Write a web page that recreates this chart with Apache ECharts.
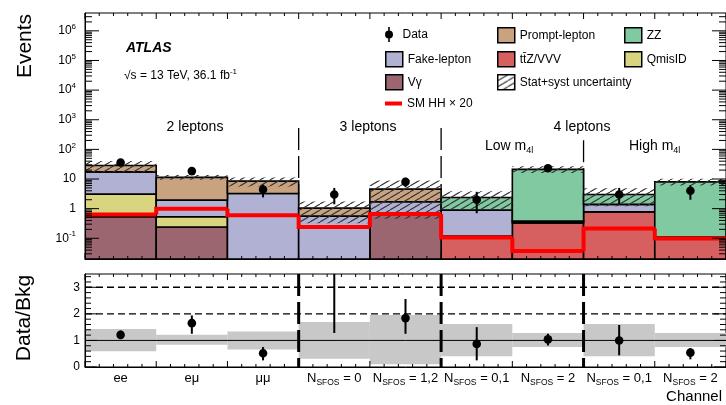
<!DOCTYPE html>
<html><head><meta charset="utf-8">
<script src="https://cdn.jsdelivr.net/npm/echarts@6/dist/echarts.min.js"></script>
<style>html,body{margin:0;padding:0;background:#fff}#c{width:726px;height:405px}</style>
</head><body><div id="c"></div>
<script>
// ---------- data ----------
const categories = ['ee', 'eμ', 'μμ', '3l NSFOS=0', '3l NSFOS=1,2', '4l low NSFOS=0,1', '4l low NSFOS=2', '4l high NSFOS=0,1', '4l high NSFOS=2'];
const channelLabels = ['ee', 'eμ', 'μμ', 'N_SFOS = 0', 'N_SFOS = 1,2', 'N_SFOS = 0,1', 'N_SFOS = 2', 'N_SFOS = 0,1', 'N_SFOS = 2'];
// background components (stack order bottom -> top)
const ttzVVV  = [0,    0,    0,    0,    0,    0.12, 0.33, 0.78, 0.11];
const vGamma  = [0.53, 0.24, 0,    0,    0.6,  0,    0,    0,    0];
const qmisID  = [2.55, 0.29, 0,    0,    0,    0,    0,    0,    0];
const fakeLep = [14.4, 1.41, 3.26, 0.56, 1.1,  0.77, 0.05, 0.61, 0];
const promptLep = [11, 9.4,  5.2,  0.48, 2.86, 0,    0,    0,    0];
const zzBkg   = [0,    0,    0,    0,    0,    1.5,  20.8, 1.6,  7.9];
const smHH20  = [0.64, 1.0,  0.6,  0.24, 0.66, 0.106, 0.037, 0.214, 0.098];
const dataVals = [36,  18.5, 4.4,  3,    8,    2,    23,   3,    4];
const dataLo   = [30,  14,   2.4,  1.4,  5.3,  0.7,  18.5, 1.4,  2.0];
const dataHi   = [42,  23,   6.5,  5.0,  11,   3.7,  28,   5.0,  6.2];
// relative uncertainty band (ratio units)
const bandLo = [0.59, 0.84, 0.66, 0.31, 0.10, 0.40, 0.75, 0.40, 0.75];
const bandHi = [1.43, 1.21, 1.34, 1.69, 1.96, 1.62, 1.28, 1.62, 1.28];
// data / bkg
const ratio   = [1.21, 1.65, 0.52, 3.6,  1.84, 0.87, 1.04, 1.00, 0.54];
const ratioLo = [1.05, 1.25, 0.25, 1.28, 1.25, 0.25, 0.81, 0.44, 0.29];
const ratioHi = [1.37, 1.94, 0.75, 5.0,  2.56, 1.50, 1.25, 1.58, 0.71];
const logTicks = [0.1, 1, 10, 100, 1e3, 1e4, 1e5, 1e6];
const ratioTicks = [0, 1, 2, 3];

// ---------- helpers ----------
const FONT = "'Liberation Sans', Arial, Helvetica, sans-serif";
const Y_MIN = 0.02, Y_MAX = 4e6, R_MAX = 3.5;
const NB = categories.length;
const layers = [
  {name: 'tt\u0304Z/VVV', vals: ttzVVV, color: '#d65f5f'},
  {name: 'V\u03b3', vals: vGamma, color: '#9c6670'},
  {name: 'QmisID', vals: qmisID, color: '#d9d47f'},
  {name: 'Fake-lepton', vals: fakeLep, color: '#b1b1d3'},
  {name: 'Prompt-lepton', vals: promptLep, color: '#c9a27f'},
  {name: 'ZZ', vals: zzBkg, color: '#80c9a1'}
];
const cum = categories.map(() => 0);
layers.forEach(l => {
  l.bottom = cum.slice();
  l.vals.forEach((v, i) => { cum[i] += v; });
  l.top = cum.slice();
});
const totalBkg = cum.slice();

// tick lists for the frame (value, length)
const topYTicks = logTicks.map(v => [v, 14]);
for (let k = -2; k <= 6; k++) for (let m = 2; m <= 9; m++) {
  const v = m * Math.pow(10, k);
  if (v > Y_MIN && v < Y_MAX) topYTicks.push([v, 7]);
}
const botYTicks = ratioTicks.map(v => [v, 12]);
for (let k = 1; k < 18; k++) if (k % 5) botYTicks.push([k / 5, 6]);

function makeHatch() {
  const c = document.createElement('canvas');
  c.width = 10; c.height = 6;
  const g = c.getContext('2d');
  g.strokeStyle = '#333'; g.lineWidth = 1.1;
  g.beginPath();
  for (const dx of [-10, 0, 10]) { g.moveTo(dx, 6); g.lineTo(dx + 10, 0); }
  g.stroke();
  return {image: c, repeat: 'repeat'};
}
const hatch = makeHatch();

function binGeom(api, i, v) {
  const c = api.coord([i, v]);
  const c2 = api.coord([i + 1, v]);
  const w = c2[0] - c[0];
  return {x0: c[0] - w / 2, x1: c[0] + w / 2, y: c[1], cx: c[0], w};
}

function frameTicks(xi, yi, yTicks, yLo, yHi) {
  return {
    type: 'custom', name: 'frame' + yi, xAxisIndex: xi, yAxisIndex: yi, z: 20, silent: true, clip: false,
    data: [[0, yLo]], encode: {x: 0, y: 1},
    renderItem(p, api) {
      const g = binGeom(api, 0, yLo);
      const left = g.x0, right = g.x0 + g.w * NB;
      const yb = api.coord([0, yLo])[1], yt = api.coord([0, yHi])[1];
      const ch = [];
      const st = {stroke: '#000', lineWidth: 1};
      yTicks.forEach(t => {
        const y = api.coord([0, t[0]])[1];
        ch.push({type: 'line', shape: {x1: left, y1: y, x2: left + t[1], y2: y}, style: st});
        ch.push({type: 'line', shape: {x1: right - t[1], y1: y, x2: right, y2: y}, style: st});
      });
      for (let k = 0; k <= NB * 5; k++) {
        const x = left + g.w * k / 5, len = k % 5 === 0 ? 6 : 3;
        ch.push({type: 'line', shape: {x1: x, y1: yb, x2: x, y2: yb - len}, style: st});
        ch.push({type: 'line', shape: {x1: x, y1: yt, x2: x, y2: yt + len}, style: st});
      }
      return {type: 'group', children: ch};
    }
  };
}

const layerSeries = layers.map(l => ({
  type: 'custom', name: l.name, xAxisIndex: 0, yAxisIndex: 0, z: 3, clip: true,
  itemStyle: {color: l.color},
  data: categories.map((c, i) => [i, l.bottom[i], l.top[i]]),
  encode: {x: 0, y: 2},
  renderItem(p, api) {
    const i = api.value(0), b = api.value(1), t = api.value(2);
    if (!(t > b)) return null;
    const g = binGeom(api, i, t);
    const yb = api.coord([i, Math.max(b, Y_MIN)])[1];
    return {type: 'rect', shape: {x: g.x0, y: g.y, width: g.w, height: yb - g.y},
      style: {fill: l.color, stroke: '#000', lineWidth: 1.6}};
  }
}));

function richLabel(s) {
  if (s.startsWith('N_SFOS')) return '{n|N}{s|SFOS}{n|' + s.slice(6) + '}';
  return '{n|' + s + '}';
}

const xBase = {
  type: 'category', data: categories, boundaryGap: true, z: 10,
  axisLine: {show: true, lineStyle: {color: '#000', width: 1}},
  axisTick: {show: false}, axisLabel: {show: false}, splitLine: {show: false}
};
const powLabelRich = {
  b: {fontSize: 12, fontFamily: FONT, color: '#000', lineHeight: 16},
  s: {fontSize: 8, fontFamily: FONT, color: '#000', lineHeight: 8, verticalAlign: 'top'}
};

const chart = echarts.init(document.getElementById('c'));
const option = {
  animation: false,
  backgroundColor: '#fff',
  grid: [
    {left: 85, top: 13, width: 641, height: 246, show: true, borderColor: '#000', borderWidth: 1},
    {left: 85, top: 274, width: 641, height: 93, show: true, borderColor: '#000', borderWidth: 1}
  ],
  xAxis: [
    Object.assign({}, xBase, {gridIndex: 0, position: 'bottom'}),
    Object.assign({}, xBase, {gridIndex: 1, position: 'bottom',
      axisLabel: {show: true, interval: 0, margin: 2,
        formatter: (v, i) => richLabel(channelLabels[i]),
        rich: {
          n: {fontSize: 13, fontFamily: FONT, color: '#000', lineHeight: 18},
          s: {fontSize: 8.5, fontFamily: FONT, color: '#000', lineHeight: 8, verticalAlign: 'bottom'}
        }}})
  ],
  yAxis: [
    {type: 'log', logBase: 10, min: Y_MIN, max: Y_MAX, gridIndex: 0, z: 10, position: 'left',
      splitLine: {show: false}, minorTick: {show: false},
      axisLine: {show: true, lineStyle: {color: '#000'}},
      axisTick: {show: false},
      axisLabel: {show: true, margin: 9, customValues: logTicks,
        formatter: v => {
          const e = Math.round(Math.log10(v));
          if (e === 0) return '{b|1}';
          if (e === 1) return '{b|10}';
          return '{b|10}{s|' + e + '}';
        }, rich: powLabelRich}},
    {type: 'value', gridIndex: 1, position: 'left', min: 0, max: R_MAX, interval: 1, z: 10,
      axisLine: {show: true, lineStyle: {color: '#000'}},
      axisTick: {show: false}, minorTick: {show: false},
      axisLabel: {show: true, margin: 5, customValues: ratioTicks, fontSize: 12, fontFamily: FONT, color: '#000'},
      splitLine: {show: false}}
  ],
  legend: [],
  graphic: [],
  series: []
};

// separators in top panel (drawn under stacks)
option.series.push({
  type: 'custom', name: 'sepTop', xAxisIndex: 0, yAxisIndex: 0, z: 1, silent: true,
  data: [[3, 525], [5, 525], [7, 205]], encode: {x: 0, y: 1},
  renderItem(p, api) {
    const i = api.value(0);
    const g = binGeom(api, i, api.value(1));
    const yb = api.coord([i, Y_MIN])[1];
    return {type: 'line', shape: {x1: g.x0, y1: g.y, x2: g.x0, y2: yb},
      style: {stroke: '#000', lineWidth: 1.3, lineDash: [22, 6]}};
  }
});
layerSeries.forEach(s => option.series.push(s));
// uncertainty hatch
option.series.push({
  type: 'custom', name: 'Stat+syst uncertainty', xAxisIndex: 0, yAxisIndex: 0, z: 4, clip: true,
  itemStyle: {color: hatch},
  data: categories.map((c, i) => [i, totalBkg[i] * bandLo[i], totalBkg[i] * bandHi[i]]),
  encode: {x: 0, y: 2},
  renderItem(p, api) {
    const i = api.value(0);
    const g = binGeom(api, i, api.value(2));
    const yb = api.coord([i, Math.max(api.value(1), Y_MIN)])[1];
    return {type: 'rect', shape: {x: g.x0, y: g.y, width: g.w, height: yb - g.y},
      style: {fill: hatch}};
  }
});
// SM HH x 20 step line
option.series.push({
  type: 'custom', name: 'SM HH \u00d7 20', xAxisIndex: 0, yAxisIndex: 0, z: 5, clip: true,
  itemStyle: {color: '#ff0000'},
  data: categories.map((c, i) => [i, smHH20[i], i > 0 ? smHH20[i - 1] : smHH20[i]]),
  encode: {x: 0, y: 1},
  renderItem(p, api) {
    const i = api.value(0);
    const g = binGeom(api, i, api.value(1));
    const yp = api.coord([i, api.value(2)])[1];
    return {type: 'polyline', shape: {points: [[g.x0, yp], [g.x0, g.y], [g.x1, g.y]]},
      style: {stroke: '#ff0000', lineWidth: 4, fill: null, lineJoin: 'miter', lineCap: 'butt'}};
  }
});
// data points (top)
option.series.push({
  type: 'custom', name: 'Data', xAxisIndex: 0, yAxisIndex: 0, z: 8,
  itemStyle: {color: '#000'},
  data: categories.map((c, i) => [i, dataVals[i], dataLo[i], dataHi[i]]),
  encode: {x: 0, y: 1},
  renderItem(p, api) {
    const i = api.value(0);
    const c = api.coord([i, api.value(1)]);
    const lo = api.coord([i, api.value(2)]);
    const hi = api.coord([i, api.value(3)]);
    return {type: 'group', children: [
      {type: 'line', shape: {x1: c[0], y1: lo[1], x2: c[0], y2: hi[1]}, style: {stroke: '#000', lineWidth: 2}},
      {type: 'circle', shape: {cx: c[0], cy: c[1], r: 4.3}, style: {fill: '#000'}}
    ]};
  }
});
option.series.push(frameTicks(0, 0, topYTicks, Y_MIN, Y_MAX));
// ratio panel: band
option.series.push({
  type: 'custom', name: 'ratioBand', xAxisIndex: 1, yAxisIndex: 1, z: 2, silent: true,
  data: categories.map((c, i) => [i, bandLo[i], bandHi[i]]),
  encode: {x: 0, y: 2},
  renderItem(p, api) {
    const i = api.value(0);
    const g = binGeom(api, i, api.value(2));
    const yb = api.coord([i, api.value(1)])[1];
    return {type: 'rect', shape: {x: g.x0, y: g.y, width: g.w, height: yb - g.y},
      style: {fill: '#c8c8c8'}};
  }
});
// ratio panel: reference lines
option.series.push({
  type: 'custom', name: 'ratioLines', xAxisIndex: 1, yAxisIndex: 1, z: 3, silent: true,
  data: [[1, 0], [2, 1], [3, 1]], encode: {y: 0},
  renderItem(p, api) {
    const v = api.value(0);
    const a = binGeom(api, 0, v), b = binGeom(api, NB - 1, v);
    return {type: 'line', shape: {x1: a.x0, y1: a.y, x2: b.x1, y2: a.y},
      style: {stroke: '#000', lineWidth: api.value(1) ? 1.4 : 1, lineDash: api.value(1) ? [7, 4] : null}};
  }
});
// ratio panel: separators
option.series.push({
  type: 'custom', name: 'sepBottom', xAxisIndex: 1, yAxisIndex: 1, z: 4, silent: true,
  data: [[3], [5], [7]], encode: {x: 0},
  renderItem(p, api) {
    const i = api.value(0);
    const g = binGeom(api, i, R_MAX);
    const yb = api.coord([i, 0])[1];
    return {type: 'line', shape: {x1: g.x0, y1: g.y, x2: g.x0, y2: yb},
      style: {stroke: '#000', lineWidth: 3, lineDash: [22, 6]}};
  }
});
// ratio panel: data
option.series.push({
  type: 'custom', name: 'ratioData', xAxisIndex: 1, yAxisIndex: 1, z: 6, clip: true,
  data: categories.map((c, i) => [i, ratio[i], ratioLo[i], ratioHi[i]]),
  encode: {x: 0, y: 1},
  renderItem(p, api) {
    const i = api.value(0);
    const c = api.coord([i, api.value(1)]);
    const lo = api.coord([i, Math.min(api.value(2), R_MAX)]);
    const hi = api.coord([i, Math.min(api.value(3), R_MAX)]);
    const ch = [{type: 'line', shape: {x1: c[0], y1: lo[1], x2: c[0], y2: hi[1]}, style: {stroke: '#000', lineWidth: 2}}];
    if (api.value(1) <= R_MAX) ch.push({type: 'circle', shape: {cx: c[0], cy: c[1], r: 4.3}, style: {fill: '#000'}});
    return {type: 'group', children: ch};
  }
});
option.series.push(frameTicks(1, 1, botYTicks, 0, R_MAX));

// legends (one per entry, placed like the reference)
const dataIcon = 'path://M3.2,0 L4.8,0 L4.8,15 L3.2,15 Z M4,3.5 A4,4 0 1 1 4,11.5 A4,4 0 1 1 4,3.5 Z';
const legendEntries = [
  {name: 'Data', x: 385, y: 35, icon: dataIcon, style: {color: '#000', borderWidth: 0}},
  {name: 'Fake-lepton', x: 385, y: 59, color: '#b1b1d3'},
  {name: 'V\u03b3', x: 385, y: 82, color: '#9c6670'},
  {name: 'SM HH \u00d7 20', x: 385, y: 105.5, icon: 'rect', h: 4, style: {color: '#ff0000', borderWidth: 0}},
  {name: 'Prompt-lepton', x: 497, y: 35, color: '#c9a27f'},
  {name: 'tt\u0304Z/VVV', x: 497, y: 59, color: '#d65f5f'},
  {name: 'Stat+syst uncertainty', x: 497, y: 82, color: hatch},
  {name: 'ZZ', x: 624, y: 35, color: '#80c9a1'},
  {name: 'QmisID', x: 624, y: 59, color: '#d9d47f'}
];
legendEntries.forEach(e => {
  option.legend.push({
    left: e.x, top: e.y - 8, padding: 0, itemWidth: 17, itemHeight: e.h || 15, itemGap: 0,
    selectedMode: false, symbolKeepAspect: true,
    textStyle: {fontSize: 12, fontFamily: FONT, color: '#000'},
    data: [{name: e.name, icon: e.icon || 'rect',
      itemStyle: e.style || {color: e.color, borderColor: '#000', borderWidth: 1.5}}]
  });
});

// texts
const txt = (x, y, text, font, extra) => Object.assign({
  type: 'text', x, y, z: 50,
  style: Object.assign({text, font, fill: '#000', textAlign: 'center', textVerticalAlign: 'middle'}, extra || {})
});
option.graphic = [
  txt(126, 48, 'ATLAS', 'italic bold 14px ' + FONT, {textAlign: 'left'}),
  txt(124, 76, '{a|\u221as = 13 TeV, 36.1 fb}{b|-1}', '12px ' + FONT, {textAlign: 'left',
    rich: {a: {fontSize: 12, fontFamily: FONT, lineHeight: 16}, b: {fontSize: 8, fontFamily: FONT, lineHeight: 8, verticalAlign: 'top'}}}),
  txt(195, 127, '2 leptons', '14px ' + FONT),
  txt(368, 127, '3 leptons', '14px ' + FONT),
  txt(582, 127, '4 leptons', '14px ' + FONT),
  txt(485, 146, '{a|Low m}{b|4l}', '14px ' + FONT, {textAlign: 'left',
    rich: {a: {fontSize: 14, fontFamily: FONT, lineHeight: 18}, b: {fontSize: 9, fontFamily: FONT, lineHeight: 9, verticalAlign: 'bottom'}}}),
  txt(629, 146, '{a|High m}{b|4l}', '14px ' + FONT, {textAlign: 'left',
    rich: {a: {fontSize: 14, fontFamily: FONT, lineHeight: 18}, b: {fontSize: 9, fontFamily: FONT, lineHeight: 9, verticalAlign: 'bottom'}}}),
  Object.assign(txt(25, 46, 'Events', '21px ' + FONT), {rotation: Math.PI / 2}),
  Object.assign(txt(24, 318, 'Data/Bkg', '21px ' + FONT), {rotation: Math.PI / 2}),
  txt(722, 397, 'Channel', '15px ' + FONT, {textAlign: 'right'})
];

chart.setOption(option);
</script></body></html>
